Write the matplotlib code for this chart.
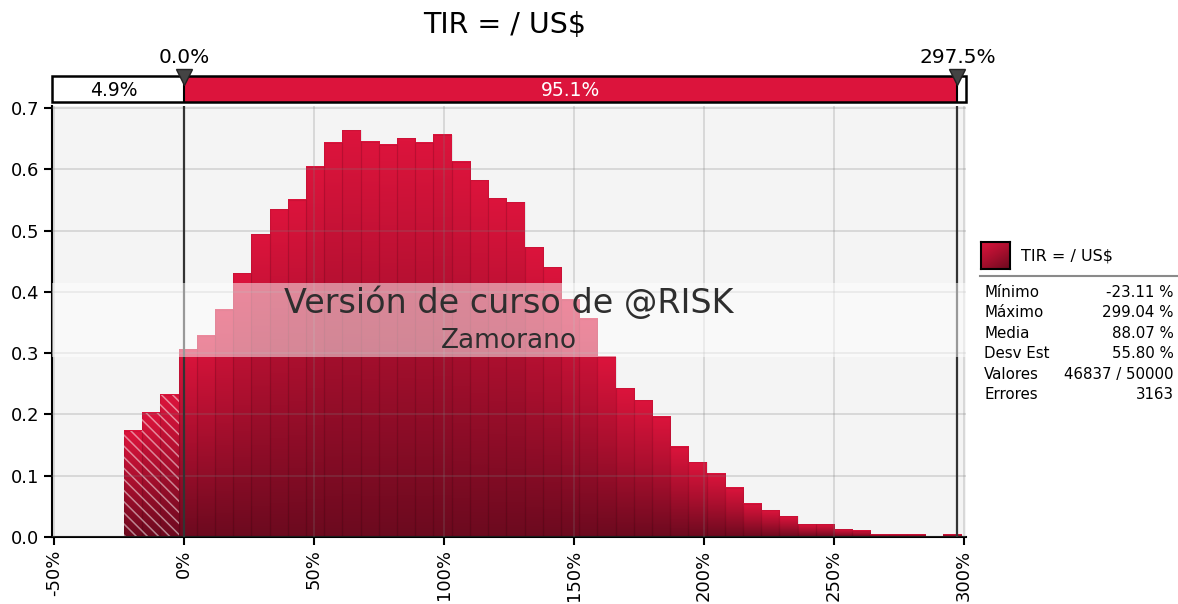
import numpy as np
import matplotlib.pyplot as plt
from matplotlib.colors import LinearSegmentedColormap
from matplotlib.patches import Rectangle
from matplotlib import transforms

# Datos de la simulacion
title = 'TIR = / US$'
tir_min, tir_max = -23.11, 299.04
density = [0.173, 0.203, 0.232, 0.306, 0.328, 0.371, 0.430, 0.494, 0.535, 0.550,
           0.604, 0.643, 0.664, 0.645, 0.640, 0.651, 0.643, 0.656, 0.612, 0.582,
           0.553, 0.546, 0.473, 0.440, 0.387, 0.356, 0.294, 0.243, 0.223, 0.196,
           0.147, 0.122, 0.103, 0.080, 0.054, 0.044, 0.034, 0.021, 0.021, 0.013,
           0.010, 0.0033, 0.0033, 0.0033, 0.0016, 0.0033]
lower_mark, upper_mark = 0.0, 297.5
pct_left, pct_mid = '4.9%', '95.1%'
xticks = [-50, 0, 50, 100, 150, 200, 250, 300]
xtick_labels = ['-50%', '0%', '50%', '100%', '150%', '200%', '250%', '300%']
yticks = [0.0, 0.1, 0.2, 0.3, 0.4, 0.5, 0.6, 0.7]
stat_names = ['Mínimo', 'Máximo', 'Media', 'Desv Est', 'Valores', 'Errores']
stat_values = ['-23.11 %', '299.04 %', '88.07 %', '55.80 %', '46837 / 50000', '3163']

W, H = 1178, 604
fig = plt.figure(figsize=(W / 100, H / 100), dpi=100)


def px_axes(x0, y0, x1, y1):
    return fig.add_axes([x0 / W, 1 - y1 / H, (x1 - x0) / W, (y1 - y0) / H])


crimson = '#dc143c'
cmap = LinearSegmentedColormap.from_list('tir', ['#6c0a1f', '#a80f2e', crimson])
xlim = (-50.77, 300.77)
ylim = (0, 0.7033)

# grafico principal
ax = px_axes(52, 106, 966, 537)
ax.set_facecolor('#f4f4f4')
edges = np.linspace(tir_min, tir_max, len(density) + 1)
grad = np.linspace(0, 1, 128).reshape(-1, 1)
for l, r, h in zip(edges[:-1], edges[1:], density):
    ax.imshow(grad, extent=(l, r, 0, h), aspect='auto', cmap=cmap, vmin=0, vmax=1,
              origin='lower', interpolation='bilinear', zorder=1)
ax.bar(edges[:-1], density, width=np.diff(edges), align='edge', fill=False,
       edgecolor=(0, 0, 0, 0.07), lw=0.8, zorder=1.2)

# zona a la izquierda de 0
plt.rcParams['hatch.linewidth'] = 1.1
for l, r, h in zip(edges[:-1], edges[1:], density):
    if r <= lower_mark:
        ax.bar(l, h, width=r - l, align='edge', fill=False, hatch='\\' * 3,
               edgecolor=(1, 1, 1, 0.5), lw=0, zorder=1.5)

ax.set_xlim(*xlim)
ax.set_ylim(*ylim)
ax.set_xticks(xticks)
ax.set_xticklabels(xtick_labels, rotation=90, fontsize=13)
ax.set_yticks(yticks)
ax.set_yticklabels(['%.1f' % v for v in yticks], fontsize=13)
ax.tick_params(direction='out', length=6, width=1.5, color='black', pad=3)
ax.grid(True, color='#7a7a7a', alpha=0.25, lw=1.3)
ax.set_axisbelow(False)
for s in ['top', 'right']:
    ax.spines[s].set_visible(False)
for s in ['left', 'bottom']:
    ax.spines[s].set_linewidth(1.5)

for m in (lower_mark, upper_mark):
    ax.axvline(m, color='#333333', lw=1.6, zorder=3)

# marca de agua
ax.axhspan(0.2937, 0.4144, color='white', alpha=0.5, lw=0, zorder=5)
tr = transforms.blended_transform_factory(ax.transAxes, ax.transData)
ax.text(0.5, 0.382, 'Versión de curso de @RISK', transform=tr, ha='center', va='center',
        fontsize=24, color='#2e2e2e', zorder=6)
ax.text(0.5, 0.320, 'Zamorano', transform=tr, ha='center', va='center',
        fontsize=19, color='#2e2e2e', zorder=6)

# barra superior de percentiles
band = px_axes(52, 76, 966, 102)
band.set_xlim(*xlim)
band.set_ylim(0, 1)
band.axis('off')
band.add_patch(Rectangle((xlim[0], 0), lower_mark - xlim[0], 1, facecolor='white', lw=0))
band.add_patch(Rectangle((lower_mark, 0), upper_mark - lower_mark, 1, facecolor=crimson, lw=0))
band.add_patch(Rectangle((upper_mark, 0), xlim[1] - upper_mark, 1, facecolor='white', lw=0))
band.add_patch(Rectangle((0, 0), 1, 1, transform=band.transAxes, fill=False,
                         edgecolor='black', lw=1.8, clip_on=False))
for m in (lower_mark, upper_mark):
    band.plot([m, m], [0, 1], color='black', lw=1.5)
band.text((xlim[0] + lower_mark) / 2 - 1.5, 0.45, pct_left, ha='center', va='center',
          fontsize=13.5)
band.text((lower_mark + upper_mark) / 2, 0.45, pct_mid, ha='center', va='center',
          fontsize=13.5, color='white')
band.plot([lower_mark, upper_mark], [0.98, 0.98], 'v', ms=12, color='#444444',
          mec='#222222', clip_on=False, zorder=5)
band.text(lower_mark, 1.73, '0.0%', ha='center', va='center', fontsize=14.5)
band.text(upper_mark, 1.73, '297.5%', ha='center', va='center', fontsize=14.5)

fig.text(505 / W, 1 - 25 / H, title, ha='center', va='center', fontsize=20.5)

# leyenda y estadisticas
sw = px_axes(981, 242, 1010, 269)
sw.imshow(np.linspace(1, 0, 64).reshape(1, -1) * 0.4 + np.linspace(0.6, 0, 64).reshape(-1, 1),
          cmap=cmap, vmin=0, vmax=1, aspect='auto', origin='upper')
sw.set_xticks([])
sw.set_yticks([])
for s in sw.spines.values():
    s.set_linewidth(1.5)
fig.text(1021 / W, 1 - 256 / H, title, ha='left', va='center', fontsize=11.5)
fig.add_artist(plt.Line2D([980 / W, 1178 / W], [1 - 276 / H, 1 - 276 / H],
                          color='#8a8a8a', lw=1.5))
for i, (name, val) in enumerate(zip(stat_names, stat_values)):
    y = 1 - (292.5 + i * 20.4) / H
    fig.text(984 / W, y, name, ha='left', va='center', fontsize=10.8)
    fig.text(1174 / W, y, val, ha='right', va='center', fontsize=10.8)

fig.savefig('out.png', dpi=100)
